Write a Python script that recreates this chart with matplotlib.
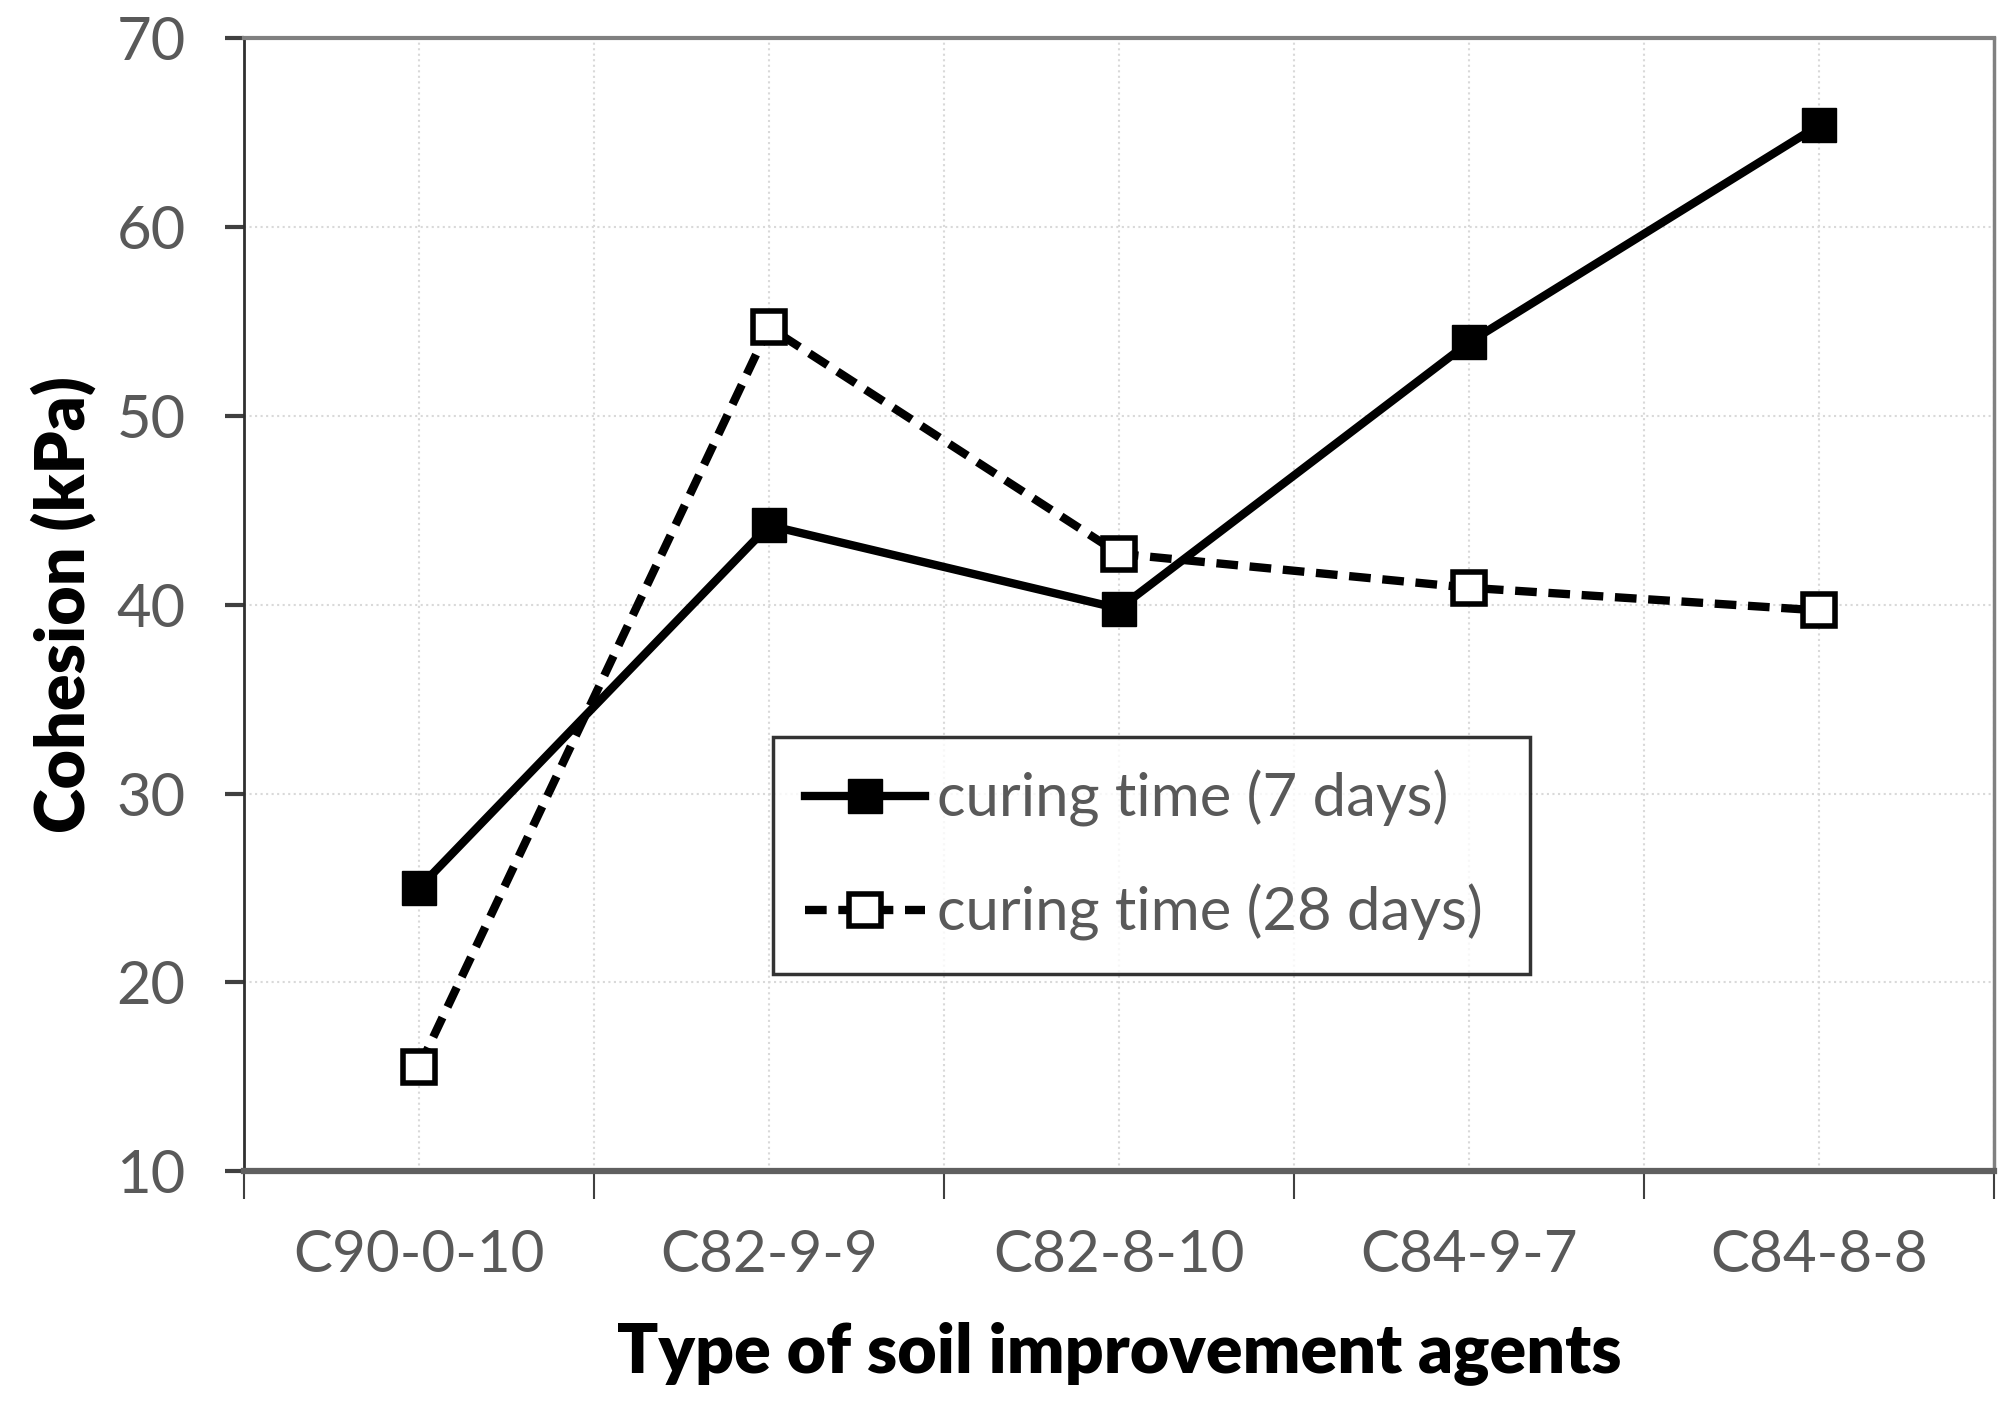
import matplotlib.pyplot as plt
from matplotlib.ticker import FixedLocator, NullFormatter

plt.rcParams['font.family'] = ['Lato', 'DejaVu Sans']

categories = ['C90-0-10', 'C82-9-9', 'C82-8-10', 'C84-9-7', 'C84-8-8']
cohesion_7d = [25.0, 44.2, 39.8, 53.9, 65.4]
cohesion_28d = [15.5, 54.7, 42.7, 40.9, 39.7]
yticks = [10, 20, 30, 40, 50, 60, 70]

gray = '#595959'
x = [i + 0.5 for i in range(len(categories))]

fig = plt.figure(figsize=(20.13, 14.08), dpi=100)
ax = fig.add_axes([0.1212, 0.1683, 0.8694, 0.8044])

ax.plot(x, cohesion_7d, color='black', lw=6, marker='s', ms=25,
        mfc='black', mec='black', label='curing time (7 days)', zorder=3)
ax.plot(x, cohesion_28d, color='black', lw=6, ls=(0, (2.6, 1.4)), marker='s', ms=23,
        mfc='white', mec='black', mew=4, label='curing time (28 days)', zorder=3)

ax.set_xlim(0, len(categories))
ax.set_ylim(10, 70)
ax.set_yticks(yticks)

# category boundaries carry the tick marks, centres carry the labels
ax.xaxis.set_major_locator(FixedLocator(range(len(categories) + 1)))
ax.xaxis.set_major_formatter(NullFormatter())
ax.set_xticks(x, categories, minor=True)
ax.tick_params(axis='x', which='major', length=20, width=1.5, color='#404040')
ax.tick_params(axis='x', which='minor', length=0, pad=42, labelsize=42, labelcolor=gray)
ax.tick_params(axis='y', length=14, width=3, color='#404040', pad=28,
               labelsize=43, labelcolor=gray)

ax.grid(True, which='both', axis='x', color='#d9d9d9', ls=':', lw=1.5)
ax.grid(True, which='major', axis='y', color='#d9d9d9', ls=':', lw=1.5)

ax.spines['left'].set_color('#303030')
ax.spines['left'].set_linewidth(2)
ax.spines['bottom'].set_color('#606060')
ax.spines['bottom'].set_linewidth(4.5)
ax.spines['top'].set_color('#808080')
ax.spines['top'].set_linewidth(3)
ax.spines['right'].set_color('#808080')
ax.spines['right'].set_linewidth(2.5)

ax.set_xlabel('Type of soil improvement agents', fontsize=49, fontweight='heavy',
              labelpad=28)
ax.set_ylabel('Cohesion (kPa)', fontsize=49, fontweight='heavy', labelpad=14)

leg = ax.legend(loc='center', bbox_to_anchor=(0.302, 0.178, 0.433, 0.201),
                mode='expand', fontsize=43, frameon=True, fancybox=False,
                edgecolor='black', handlelength=2.0, handletextpad=0.2,
                labelspacing=0.95, borderpad=0.55, borderaxespad=0)
leg.get_frame().set_linewidth(2.5)
for t in leg.get_texts():
    t.set_color(gray)

fig.savefig('out.png', dpi=100)
